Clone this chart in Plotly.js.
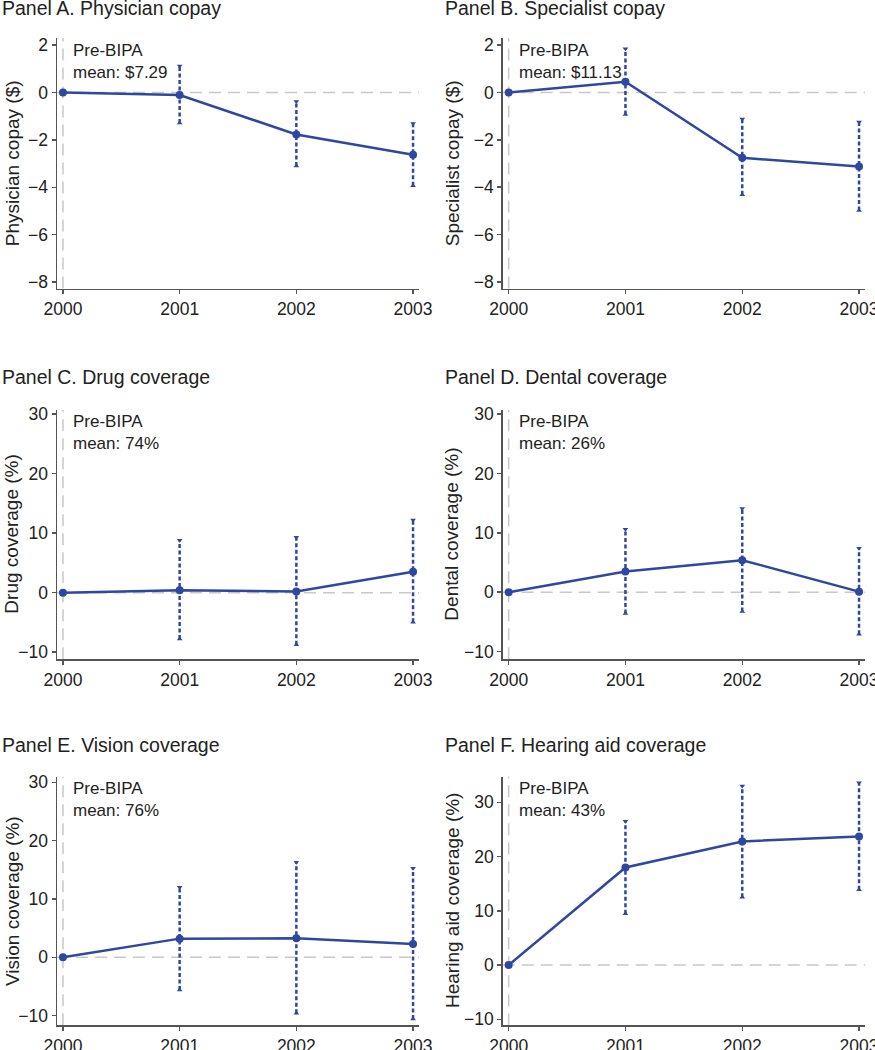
<!DOCTYPE html>
<html>
<head>
<meta charset="utf-8">
<script src="https://cdn.plot.ly/plotly-3.0.1.min.js"></script>
<style>
  html, body { margin: 0; padding: 0; background: #fff; }
  #chart { width: 875px; height: 1050px; }
</style>
</head>
<body>
<div id="chart"></div>
<script>
// ---- Data ----
const years = [2000, 2001, 2002, 2003];
const yearLabels = ["2000", "2001", "2002", "2003"];

const panelTitles = [
  "Panel A. Physician copay",
  "Panel B. Specialist copay",
  "Panel C. Drug coverage",
  "Panel D. Dental coverage",
  "Panel E. Vision coverage",
  "Panel F. Hearing aid coverage"
];
const yTitles = [
  "Physician copay ($)",
  "Specialist copay ($)",
  "Drug coverage (%)",
  "Dental coverage (%)",
  "Vision coverage (%)",
  "Hearing aid coverage (%)"
];
const preMeans = ["$7.29", "$11.13", "74%", "26%", "76%", "43%"];

// Point estimates
const physicianEst = [0, -0.11, -1.77, -2.63];
const specialistEst = [0, 0.45, -2.76, -3.13];
const drugEst = [0, 0.4, 0.2, 3.5];
const dentalEst = [0, 3.5, 5.4, 0.1];
const visionEst = [0, 3.2, 3.26, 2.3];
const hearingEst = [0, 18.0, 22.8, 23.7];

// Confidence interval bounds (none for 2000 baseline)
const physicianLo = [null, -1.29, -3.10, -3.93];
const physicianHi = [null, 1.12, -0.38, -1.31];
const specialistLo = [null, -0.93, -4.32, -4.99];
const specialistHi = [null, 1.85, -1.12, -1.25];
const drugLo = [null, -7.8, -8.74, -4.98];
const drugHi = [null, 8.8, 9.3, 12.2];
const dentalLo = [null, -3.6, -3.25, -7.06];
const dentalHi = [null, 10.6, 14.1, 7.4];
const visionLo = [null, -5.6, -9.6, -10.6];
const visionHi = [null, 12.0, 16.3, 15.26];
const hearingLo = [null, 9.45, 12.5, 13.9];
const hearingHi = [null, 26.5, 33.0, 33.6];

// Axis ticks
const copayTicks = [-8, -6, -4, -2, 0, 2];
const coverageTicks = [-10, 0, 10, 20, 30];

// ---- Build panels ----
const est = [physicianEst, specialistEst, drugEst, dentalEst, visionEst, hearingEst];
const lo = [physicianLo, specialistLo, drugLo, dentalLo, visionLo, hearingLo];
const hi = [physicianHi, specialistHi, drugHi, dentalHi, visionHi, hearingHi];
const yTicks = [copayTicks, copayTicks, coverageTicks, coverageTicks, coverageTicks, coverageTicks];
const yRanges = [[-8.27, 2.3], [-8.28, 2.3], [-11.2, 30.7], [-11.3, 30.7], [-11.66, 30.97], [-11.1, 34.73]];

const W = 875, H = 1050;
const colPx = [[57, 419], [502.7, 865]];
const rowPx = [[38, 288.5], [410, 659.3], [776.7, 1025.3]];
const titleCenterPx = [8, 377, 745];
const titleLeftPx = [0, 442.5];
const yTitleCenterPx = [12, 452];

const BLUE = "#2f47a1";
const AXIS = "#555555";
const TEXT = "#222222";
const FONT = "Liberation Sans, Arial, Helvetica, sans-serif";

const traces = [];
const layout = {
  width: W, height: H,
  margin: {l: 0, r: 0, t: 0, b: 0},
  paper_bgcolor: "#ffffff",
  plot_bgcolor: "rgba(0,0,0,0)",
  showlegend: false,
  hovermode: false,
  font: {family: FONT, color: TEXT},
  annotations: [],
  shapes: []
};

for (let p = 0; p < 6; p++) {
  const row = Math.floor(p / 2), col = p % 2;
  const sfx = p === 0 ? "" : String(p + 1);
  const xa = "x" + sfx, ya = "y" + sfx;

  layout["xaxis" + sfx] = {
    domain: [colPx[col][0] / W, colPx[col][1] / W],
    anchor: ya,
    range: [1999.949, 2003.051],
    tickvals: years, ticktext: yearLabels,
    ticks: "outside", ticklen: 4, tickwidth: 1.5, tickcolor: AXIS,
    showline: true, linecolor: AXIS, linewidth: 1.5,
    showgrid: false, zeroline: false,
    ticklabeloverflow: "allow",
    tickfont: {size: 17.5, color: TEXT, family: FONT},
    fixedrange: true
  };
  layout["yaxis" + sfx] = {
    domain: [1 - rowPx[row][1] / H, 1 - rowPx[row][0] / H],
    anchor: xa,
    range: yRanges[p],
    tickvals: yTicks[p],
    ticks: "outside", ticklen: 4, tickwidth: 1.5, tickcolor: AXIS,
    showline: true, linecolor: AXIS, linewidth: 1.5,
    showgrid: false, zeroline: false,
    ticklabeloverflow: "allow",
    tickfont: {size: 17.5, color: TEXT, family: FONT},
    fixedrange: true
  };

  // Reference lines
  layout.shapes.push({
    type: "line", xref: xa + " domain", yref: ya, x0: 0, x1: 1, y0: 0, y1: 0,
    line: {color: "#c8c8c8", width: 1.5, dash: "12px,7px"}, layer: "below"
  });
  layout.shapes.push({
    type: "line", xref: xa, yref: ya + " domain", x0: years[0], x1: years[0], y0: 0, y1: 1,
    line: {color: "#c8c8c8", width: 1.5, dash: "12px,7px"}, layer: "below"
  });

  // Confidence intervals
  const ex = [], ey = [], capX = [], capHi = [], capLo = [];
  for (let i = 0; i < years.length; i++) {
    if (lo[p][i] === null) continue;
    ex.push(years[i], years[i], null);
    ey.push(lo[p][i], hi[p][i], null);
    capX.push(years[i]);
    capHi.push(hi[p][i]);
    capLo.push(lo[p][i]);
  }
  traces.push({
    type: "scatter", mode: "lines", x: ex, y: ey, xaxis: xa, yaxis: ya,
    line: {color: BLUE, width: 2.5, dash: "4px,2.5px"}, connectgaps: false, hoverinfo: "skip"
  });
  traces.push({
    type: "scatter", mode: "markers", x: capX, y: capHi, xaxis: xa, yaxis: ya,
    marker: {symbol: "triangle-down", size: 5, color: BLUE}, hoverinfo: "skip"
  });
  traces.push({
    type: "scatter", mode: "markers", x: capX, y: capLo, xaxis: xa, yaxis: ya,
    marker: {symbol: "triangle-up", size: 5, color: BLUE}, hoverinfo: "skip"
  });

  // Estimates
  traces.push({
    type: "scatter", mode: "lines+markers", x: years, y: est[p], xaxis: xa, yaxis: ya,
    line: {color: BLUE, width: 2.5},
    marker: {symbol: "circle", size: 8, color: BLUE}, hoverinfo: "skip"
  });

  // Panel title
  layout.annotations.push({
    xref: "paper", yref: "paper",
    x: titleLeftPx[col] / W, y: 1 - titleCenterPx[row] / H,
    xanchor: "left", yanchor: "middle",
    text: panelTitles[p], showarrow: false,
    font: {size: 19.5, color: TEXT, family: FONT}
  });
  // Y-axis title
  layout.annotations.push({
    xref: "paper", yref: ya + " domain",
    x: yTitleCenterPx[col] / W, y: 0.5,
    xanchor: "center", yanchor: "middle", textangle: -90,
    text: yTitles[p], showarrow: false,
    font: {size: 19, color: TEXT, family: FONT}
  });
  // Pre-BIPA mean note
  layout.annotations.push({
    xref: xa + " domain", yref: ya + " domain",
    x: 14 / 362, y: 1 - 0.5 / 250,
    xanchor: "left", yanchor: "top", align: "left",
    text: "Pre-BIPA<br>mean: " + preMeans[p], showarrow: false,
    font: {size: 17, color: TEXT, family: FONT}
  });
}

Plotly.newPlot("chart", traces, layout, {staticPlot: true, displayModeBar: false});
</script>
</body>
</html>
